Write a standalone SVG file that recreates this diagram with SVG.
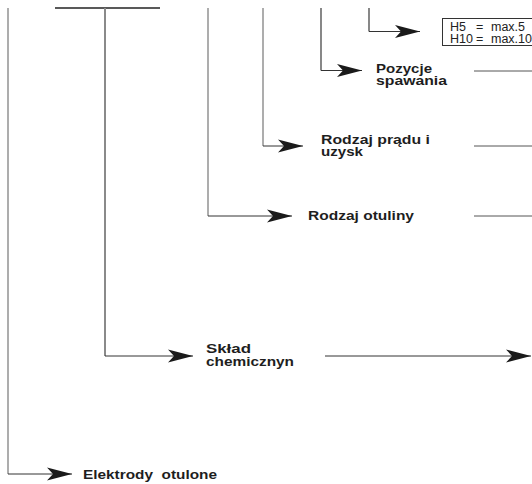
<svg xmlns="http://www.w3.org/2000/svg" width="532" height="484" viewBox="0 0 532 484">
<style>
.v{fill:none;stroke:#8a8a8a;stroke-width:1.4}
.h{fill:none;stroke:#333;stroke-width:1}
.r{fill:none;stroke:#555;stroke-width:1}
.lbl{font-family:"Liberation Sans",Arial,sans-serif;font-weight:bold;font-size:13.5px;fill:#1e1e1e}
.box{fill:#fff;stroke:#333;stroke-width:1}
.bt{font-family:"Liberation Sans",Arial,sans-serif;font-size:12.5px;fill:#222}
</style>
<defs>
<marker id="ah" markerUnits="userSpaceOnUse" markerWidth="27" markerHeight="15" viewBox="-26 -7.5 27 15" refX="0" refY="0" orient="auto">
<path d="M0,0 L-25,-6.5 L-19,0 L-25,6.5 Z" fill="#1a1a1a"/>
</marker>
</defs>
<rect width="532" height="484" fill="#fff"/>
<g id="connectors">
<path d="M55,8 H160" fill="none" stroke="#222" stroke-width="1.4"/>
<path class="v" d="M8,8 V474"/>
<path class="h" d="M8,474 H72" marker-end="url(#ah)"/>
<path class="v" d="M105,8 V356" style="stroke-width:2"/>
<path class="h" d="M105,356 H193" marker-end="url(#ah)"/>
<path class="v" d="M208,8 V216"/>
<path class="h" d="M208,216 H292" marker-end="url(#ah)"/>
<path class="v" d="M263,8 V146"/>
<path class="h" d="M263,146 H303" marker-end="url(#ah)"/>
<path class="v" d="M321,8 V70.5" style="stroke:#555"/>
<path class="h" d="M321,70.5 H362" marker-end="url(#ah)"/>
<path class="v" d="M369,8 V31.5" style="stroke:#555"/>
<path class="h" d="M369,31.5 H420" marker-end="url(#ah)"/>
<path class="r" d="M474,71 H532"/>
<path class="r" d="M474,146 H532"/>
<path class="r" d="M474,216 H532"/>
<path class="h" d="M325,356 H531" marker-end="url(#ah)"/>
</g>
<g id="node-wodor">
<rect class="box" x="442.5" y="18.5" width="100" height="27"/>
<text class="bt" y="31"><tspan x="450">H5</tspan><tspan x="476">=</tspan><tspan x="491">max.5</tspan></text>
<text class="bt" y="42.5"><tspan x="450">H10</tspan><tspan x="476">=</tspan><tspan x="491">max.10</tspan></text>
</g>
<g id="node-pozycje">
<text class="lbl" x="376" y="72.5" textLength="56" lengthAdjust="spacingAndGlyphs">Pozycje</text>
<text class="lbl" x="376" y="85" textLength="71" lengthAdjust="spacingAndGlyphs">spawania</text>
</g>
<g id="node-prad">
<text class="lbl" x="321" y="143.5" textLength="109" lengthAdjust="spacingAndGlyphs">Rodzaj prądu i</text>
<text class="lbl" x="321" y="156" textLength="42" lengthAdjust="spacingAndGlyphs">uzysk</text>
</g>
<g id="node-otulina">
<text class="lbl" x="308" y="220" textLength="106" lengthAdjust="spacingAndGlyphs">Rodzaj otuliny</text>
</g>
<g id="node-sklad">
<text class="lbl" x="206" y="353" textLength="45" lengthAdjust="spacingAndGlyphs">Skład</text>
<text class="lbl" x="206" y="366" textLength="88" lengthAdjust="spacingAndGlyphs">chemicznyn</text>
</g>
<g id="node-elektrody">
<text class="lbl" x="83" y="479" textLength="134" lengthAdjust="spacingAndGlyphs" xml:space="preserve">Elektrody  otulone</text>
</g>
</svg>
